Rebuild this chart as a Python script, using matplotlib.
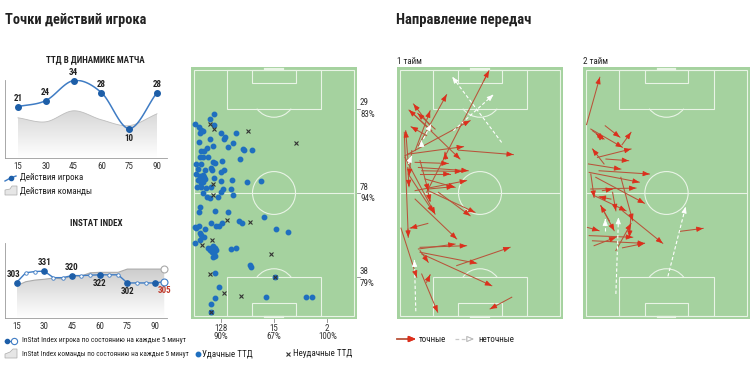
import numpy as np
import matplotlib
matplotlib.use("Agg")
import matplotlib.pyplot as plt
from matplotlib import font_manager
from matplotlib.colors import LinearSegmentedColormap
from matplotlib.lines import Line2D
from matplotlib.patches import Arc, Circle, Polygon, Rectangle


def pick_font():
    # узкий шрифт, если он есть; иначе обычный
    fonts = font_manager.fontManager.ttflist
    names = {f.name for f in fonts}
    for cand in ["Liberation Sans Narrow", "Roboto Condensed", "Open Sans Condensed",
                 "Noto Sans Condensed", "DejaVu Sans Condensed"]:
        if cand in names:
            return cand, "normal"
    for f in fonts:
        if f.name == "DejaVu Sans" and "condensed" in str(f.stretch):
            return "DejaVu Sans", "condensed"
    return "Liberation Sans", "normal"


FONT, STRETCH = pick_font()
plt.rcParams["font.family"] = [FONT, "DejaVu Sans"]
plt.rcParams["font.stretch"] = STRETCH

# ТТД в динамике матча (по 15 минут)
ttd_minutes = [15, 30, 45, 60, 75, 90]
ttd_player = [21, 24, 34, 28, 10, 28]
ttd_team = [15.4, 13.4, 18.9, 14.4, 11.5, 17.4]

# InStat Index каждые 5 минут
idx_minutes = [15, 20, 25, 30, 35, 40, 45, 50, 55, 60, 65, 70, 75, 80, 85, 90, 95]
idx_player = [303, 327, 330, 331, 315, 315, 320, 320, 321, 322, 322, 322, 302, 302, 302, 302, 305]
idx_team = [295, 305, 309, 311, 314, 312, 319, 319, 327, 328, 328, 328, 336, 336, 336, 336, 336]
idx_label_minutes = [15, 30, 45, 60, 75, 95]

# ТТД на поле, метры: x поперёк поля (0..68), y вдоль (0..105)
good_actions = np.array([
    (8.4, 18.8), (6.7, 21.1), (0.2, 23.2), (2.0, 24.5), (3.1, 25.6), (2.4, 27.0), (3.7, 26.0),
    (8.5, 23.5), (11.6, 27.0), (13.3, 28.5), (12.8, 29.6), (18.0, 26.7), (6.7, 29.6), (2.3, 30.9),
    (8.1, 32.3), (14.5, 32.7), (16.6, 31.0), (20.8, 33.9), (21.3, 34.1), (24.8, 34.1), (19.4, 38.1),
    (3.1, 34.4), (4.3, 34.4), (5.7, 33.4), (2.4, 37.3), (3.8, 37.3), (6.0, 37.0), (8.1, 39.1),
    (8.8, 39.8), (12.0, 38.7), (1.0, 40.1), (2.8, 40.1), (7.1, 42.0), (7.7, 42.7), (1.7, 42.4),
    (4.8, 42.7), (11.3, 43.4), (12.8, 42.7), (1.0, 44.4), (2.4, 45.2), (3.4, 45.5), (4.3, 45.8),
    (3.1, 47.0), (4.5, 46.7), (1.7, 47.0), (2.8, 48.1), (8.5, 46.0), (11.6, 47.2), (16.3, 47.0),
    (22.7, 47.8), (28.6, 47.4), (1.4, 50.1), (3.1, 50.1), (5.2, 50.5), (7.4, 50.1), (11.6, 51.9),
    (12.3, 50.9), (15.6, 50.9), (3.8, 52.6), (5.7, 54.1), (6.7, 54.6), (10.2, 54.4), (16.6, 53.4),
    (2.6, 58.6), (3.8, 47.7), (3.0, 46.2), (3.6, 46.5), (4.0, 45.0), (2.6, 46.0),
    (2.0, 60.5), (9.1, 60.2), (14.5, 60.8), (0.3, 66.9), (1.0, 67.3), (2.0, 66.4), (4.5, 67.9),
    (7.4, 65.2), (9.5, 66.4), (10.5, 66.6), (12.0, 65.4), (19.0, 64.5), (20.4, 65.4), (29.8, 62.6),
    (35.0, 67.9), (40.0, 69.0), (2.4, 69.7), (2.8, 70.4), (4.3, 71.4), (2.4, 72.6), (0.2, 74.0),
    (6.0, 75.8), (6.7, 76.8), (7.4, 76.1), (8.1, 75.0), (8.8, 75.8), (7.7, 77.5), (8.5, 78.3),
    (9.5, 76.8), (8.1, 79.7), (9.1, 79.3), (15.6, 76.4), (17.7, 76.1), (23.7, 83.2), (24.4, 84.2),
    (8.8, 86.5), (10.6, 92.6), (9.1, 97.2), (7.4, 100.0), (30.7, 97.0), (47.8, 96.9), (50.3, 96.9),
    (34.6, 88.5), (7.1, 103.3),
])
bad_actions = np.array([
    (6.7, 23.0), (8.5, 25.3), (23.0, 26.0), (43.5, 31.0), (8.1, 48.7), (8.1, 53.4), (14.2, 64.0),
    (23.7, 64.7), (7.7, 72.6), (3.4, 74.7), (32.9, 78.5), (6.7, 87.1), (12.6, 95.3), (19.8, 96.5),
    (34.6, 88.5), (7.1, 103.3),
])
row_counts = [29, 78, 38]
row_pct = [83, 94, 79]
col_counts = [128, 15, 2]
col_pct = [90, 67, 100]

# передачи: x0, y0, x1, y1 (метры)
passes_1 = [
    (11.3, 52.2, 37.8, 0.3), (7.8, 32.3, 19.8, 10.5), (4.3, 17.4, 25.5, 38.0), (12.8, 23.8, 5.7, 14.5),
    (13.5, 25.9, 3.8, 17.1), (14.9, 25.2, 7.5, 18.5), (6.4, 34.4, 12.8, 17.4), (3.5, 40.1, 2.4, 25.9),
    (1.8, 26.6, 3.5, 71.4), (3.3, 41.6, 3.8, 49.8), (3.5, 35.9, 27.0, 32.7), (24.8, 34.2, 48.2, 36.1),
    (19.4, 38.0, 19.1, 35.1), (6.4, 39.4, 20.5, 39.9), (7.8, 41.6, 29.0, 43.0), (9.2, 43.0, 26.2, 43.3),
    (8.5, 44.4, 21.3, 44.4), (10.6, 46.5, 23.4, 50.1), (6.4, 51.5, 28.3, 47.2), (12.0, 50.8, 22.7, 49.8),
    (12.0, 51.5, 31.9, 60.8), (16.3, 52.2, 29.8, 62.2), (11.3, 49.4, 12.8, 56.1), (6.4, 55.1, 24.1, 72.1),
    (3.5, 44.4, 14.2, 60.8), (2.1, 37.3, 14.9, 61.5), (11.8, 65.5, 4.3, 67.5), (0.4, 67.5, 7.1, 88.5),
    (8.5, 75.7, 28.3, 75.0), (7.8, 76.4, 23.4, 74.3), (8.5, 77.1, 12.0, 82.1), (8.5, 77.8, 32.6, 82.5),
    (9.2, 78.5, 39.0, 92.1), (24.1, 83.5, 46.8, 75.7), (9.2, 87.1, 16.0, 103.4), (11.3, 90.6, 12.8, 87.4),
    (47.5, 97.0, 38.3, 102.0), (2.1, 36.6, 29.8, 21.6), (8.5, 38.7, 12.0, 51.5), (5.0, 34.4, 3.8, 45.1),
    (11.3, 28.0, 4.7, 24.2),
]
passes_1_bad = [
    (43.2, 30.9, 22.2, 2.9), (22.7, 25.9, 39.7, 10.5), (9.9, 29.5, 13.2, 23.1),
    (6.7, 103.0, 6.1, 81.1), (3.5, 40.1, 5.0, 36.6), (9.2, 32.3, 9.0, 29.9),
]
passes_2 = [
    (0.2, 23.3, 5.8, 3.1), (8.1, 23.8, 14.3, 28.7), (2.0, 25.2, 15.4, 33.0), (15.2, 31.9, 19.0, 26.6),
    (2.7, 25.9, 7.6, 29.5), (6.9, 29.5, 4.4, 27.3), (4.8, 37.3, 19.0, 33.7), (7.6, 40.1, 2.7, 33.7),
    (1.0, 40.1, 14.7, 42.3), (8.4, 38.0, 18.0, 38.7), (5.5, 43.0, 26.8, 44.4), (1.3, 43.7, 22.5, 47.9),
    (4.1, 45.8, 24.7, 56.9), (2.0, 50.8, 21.1, 50.4), (6.9, 51.5, 11.2, 50.8), (3.4, 53.6, 16.9, 60.1),
    (11.2, 52.2, 12.6, 60.1), (14.7, 45.8, 19.7, 64.3), (15.4, 60.1, 32.4, 74.0), (6.2, 57.9, 11.9, 68.6),
    (0.6, 67.2, 5.5, 68.6), (1.3, 70.7, 19.7, 71.4), (2.7, 72.9, 24.7, 74.0), (3.4, 75.0, 12.6, 71.4),
    (12.6, 77.1, 19.0, 65.5), (19.0, 61.5, 18.3, 71.4), (39.5, 68.9, 49.5, 67.6), (9.8, 64.3, 6.2, 57.9),
    (15.4, 75.9, 24.7, 74.0), (2.0, 44.4, 3.4, 54.4), (10.5, 55.1, 5.5, 54.1),
]
passes_2_bad = [
    (12.6, 95.6, 13.7, 62.9), (34.6, 88.1, 42.1, 58.3), (8.1, 68.6, 8.1, 63.6),
]

W, H = 750, 368
GREEN = "#a5d29f"
LINE = "#e9f4e6"
BLUE = "#1f6fbf"
RED_LINE = "#b9533a"
RED_HEAD = "#dc2f1c"

fig = plt.figure(figsize=(7.5, 3.68), dpi=100)
fig.patch.set_facecolor("white")
renderer = fig.canvas.get_renderer()


def add_ax(x0, y0, x1, y1):
    return fig.add_axes([x0 / W, 1 - y1 / H, (x1 - x0) / W, (y1 - y0) / H])


def fig_text(x, y, s, width=None, **kw):
    kw.setdefault("va", "center")
    kw.setdefault("color", "#222222")
    t = fig.text(x / W, 1 - y / H, s, **kw)
    if width:
        # подгоняем кегль под ширину надписи в оригинале
        w = t.get_window_extent(renderer).width
        t.set_fontsize(t.get_fontsize() * width / w)
    return t


def fig_line(xs, ys, **kw):
    fig.add_artist(Line2D([x / W for x in xs], [1 - y / H for y in ys],
                          transform=fig.transFigure, **kw))


def smooth(x, y, n=24):
    # Catmull-Rom, только для отрисовки плавной кривой
    x = np.asarray(x, float)
    y = np.asarray(y, float)
    px = np.concatenate([[2 * x[0] - x[1]], x, [2 * x[-1] - x[-2]]])
    py = np.concatenate([[2 * y[0] - y[1]], y, [2 * y[-1] - y[-2]]])
    t = np.linspace(0, 1, n, endpoint=False)
    ox, oy = [], []
    for i in range(1, len(px) - 2):
        for arr, out in ((px, ox), (py, oy)):
            p0, p1, p2, p3 = arr[i - 1:i + 3]
            out.append(0.5 * (2 * p1 + (-p0 + p2) * t + (2 * p0 - 5 * p1 + 4 * p2 - p3) * t ** 2
                              + (-p0 + 3 * p1 - 3 * p2 + p3) * t ** 3))
    ox.append([x[-1]])
    oy.append([y[-1]])
    return np.concatenate(ox), np.concatenate(oy)


def gradient_area(ax, x, y, y0, color):
    verts = np.vstack([np.column_stack([x, y]), [[x[-1], y0], [x[0], y0]]])
    clip = Polygon(verts, closed=True, facecolor="none", edgecolor="none")
    ax.add_patch(clip)
    cmap = LinearSegmentedColormap.from_list("g", ["#ffffff", color])
    grad = np.linspace(1, 0, 256).reshape(-1, 1)
    img = ax.imshow(grad, extent=[x.min(), x.max(), y0, y.max()], aspect="auto",
                    cmap=cmap, origin="upper", zorder=1)
    img.set_clip_path(clip)


def style_chart(ax):
    ax.set_facecolor("none")
    for s in ("top", "right"):
        ax.spines[s].set_visible(False)
    for s in ("left", "bottom"):
        ax.spines[s].set_color("#9a9a9a")
        ax.spines[s].set_linewidth(0.6)
    ax.set_yticks([])
    ax.tick_params(axis="x", length=0, pad=3, labelsize=6.5, colors="#333333")


def draw_pitch(ax):
    ax.set_facecolor(GREEN)
    for s in ax.spines.values():
        s.set_visible(False)
    ax.set_xticks([])
    ax.set_yticks([])
    kw = dict(fill=False, ec=LINE, lw=0.8)
    ax.add_patch(Rectangle((0, 0), 68, 105, **kw))
    ax.plot([0, 68], [52.5, 52.5], color=LINE, lw=0.8)
    ax.add_patch(Circle((34, 52.5), 9.15, **kw))
    ax.add_patch(Rectangle((13.84, 0), 40.32, 16.5, **kw))
    ax.add_patch(Rectangle((13.84, 88.5), 40.32, 16.5, **kw))
    ax.add_patch(Rectangle((24.84, 0), 18.32, 5.5, **kw))
    ax.add_patch(Rectangle((24.84, 99.5), 18.32, 5.5, **kw))
    ax.add_patch(Arc((34, 11), 18.3, 18.3, theta1=37, theta2=143, ec=LINE, lw=0.8))
    ax.add_patch(Arc((34, 94), 18.3, 18.3, theta1=217, theta2=323, ec=LINE, lw=0.8))
    ax.plot([30.3, 37.7], [-0.4, -0.4], color=LINE, lw=1.6)
    ax.plot([30.3, 37.7], [105.4, 105.4], color=LINE, lw=1.6)
    ax.set_xlim(-1.3, 69.3)
    ax.set_ylim(106.3, -1.3)


def draw_passes(ax, passes, dashed=False):
    for x0, y0, x1, y1 in passes:
        if dashed:
            ax.plot([x0, x1], [y0, y1], color="white", lw=0.8, ls=(0, (3, 2)), zorder=3)
            head_col = "white"
        else:
            ax.plot([x0, x1], [y0, y1], color=RED_LINE, lw=0.75, zorder=3)
            head_col = RED_HEAD
        ax.annotate("", xy=(x1, y1), xytext=(x1 - 0.08 * (x1 - x0), y1 - 0.08 * (y1 - y0)),
                    arrowprops=dict(arrowstyle="-|>,head_length=0.55,head_width=0.22",
                                    color=head_col, lw=0.6, shrinkA=0, shrinkB=0,
                                    mutation_scale=7), zorder=4)


# заголовки
fig_text(5, 20, "Точки действий игрока", width=140, fontsize=11, fontweight="bold")
fig_text(396, 20, "Направление передач", width=136, fontsize=11, fontweight="bold")
fig_text(95, 60, "ТТД В ДИНАМИКЕ МАТЧА", fontsize=6.5, fontweight="bold", ha="center")
fig_text(96, 223, "INSTAT INDEX", fontsize=6.5, fontweight="bold", ha="center")

# --- ТТД в динамике
ax1 = add_ax(5, 80, 167, 158)
tx, ty = smooth(ttd_minutes, ttd_team)
gradient_area(ax1, tx, ty, -4.7, "#d6d6d6")
ax1.plot(tx, ty, color="#bdbdbd", lw=0.6, zorder=2)
px, py = smooth(ttd_minutes, ttd_player)
ax1.plot(px, py, color="#3f7cc4", lw=1.1, zorder=3)
ax1.plot(ttd_minutes, ttd_player, "o", ms=4, color="#1d5ea8", zorder=4, clip_on=False)
low = min(ttd_player)
for m, v in zip(ttd_minutes, ttd_player):
    dy = -7 if v == low else 5.5
    ax1.annotate(str(v), (m, v), xytext=(0, dy), textcoords="offset points",
                 ha="center", va="center", fontsize=6.5, fontweight="bold", color="#222222")
ax1.set_xlim(8.0, 95.4)
ax1.set_ylim(-4.7, 34.3)
ax1.set_xticks(ttd_minutes)
style_chart(ax1)

fig_line([5, 10.5, 16], [181, 178, 176], color="#3f7cc4", lw=1)
fig_line([10.5], [178], marker="o", ms=3, color="#1d5ea8", ls="none")
fig_text(20, 178, "Действия игрока", fontsize=6.5)
fig.add_artist(Polygon([(5 / W, 1 - 195 / H), (5 / W, 1 - 190 / H), (10 / W, 1 - 189 / H),
                        (12 / W, 1 - 186 / H), (17 / W, 1 - 186 / H), (17 / W, 1 - 195 / H)],
                       closed=True, transform=fig.transFigure, fc="#e6e6e6", ec="#aaaaaa", lw=0.5))
fig_text(20, 191, "Действия команды", fontsize=6.5)

# --- InStat Index
ax2 = add_ax(5, 243, 167, 318)
im = np.asarray(idx_minutes, float)
gradient_area(ax2, im, np.asarray(idx_team, float), 216, "#cdcdcd")
ax2.plot(idx_minutes, idx_team, color="#ababab", lw=0.8, zorder=2)
ax2.plot(idx_minutes[-1], idx_team[-1], "o", ms=5, mfc="white", mec="#a9a9a9", mew=0.8,
         zorder=4, clip_on=False)
ax2.plot(idx_minutes, idx_player, color="#3f7cc4", lw=1.0, zorder=3)
big = [m % 15 == 0 for m in idx_minutes]
ax2.plot([m for m, b in zip(idx_minutes, big) if b], [v for v, b in zip(idx_player, big) if b],
         "o", ms=3.8, color="#1d5ea8", zorder=4)
ax2.plot([m for m, b in zip(idx_minutes[:-1], big) if not b],
         [v for v, b in zip(idx_player[:-1], big) if not b],
         "o", ms=2.5, mfc="white", mec="#3f7cc4", mew=0.6, zorder=4)
ax2.plot(idx_minutes[-1], idx_player[-1], "o", ms=5, mfc="white", mec="#3f7cc4", mew=0.8,
         zorder=5, clip_on=False)
offsets = {15: (-2, 6), 30: (0, 6), 45: (0, 6), 60: (0, -6), 75: (0, -6), 95: (0, -6)}
for m in idx_label_minutes:
    v = idx_player[idx_minutes.index(m)]
    ax2.annotate(str(v), (m, v), xytext=offsets[m], textcoords="offset points",
                 ha="center", va="center", fontsize=6.5, fontweight="bold",
                 color="#c0392b" if m == idx_minutes[-1] else "#222222")
ax2.set_xlim(8.75, 96.5)
ax2.set_ylim(216, 400)
ax2.set_xticks(ttd_minutes)
style_chart(ax2)

fig_line([5, 14], [341, 341], color="#3f7cc4", lw=1)
fig_line([6.5], [341], marker="o", ms=3, color="#1d5ea8", ls="none")
fig_line([14], [341], marker="o", ms=4.5, mfc="white", mec="#3f7cc4", mew=0.8, ls="none")
fig_text(22, 341, "InStat Index игрока по состоянию на каждые 5 минут", width=166, fontsize=7)
fig.add_artist(Polygon([(5 / W, 1 - 358 / H), (5 / W, 1 - 354 / H), (10 / W, 1 - 352 / H),
                        (13 / W, 1 - 349 / H), (17 / W, 1 - 349 / H), (17 / W, 1 - 358 / H)],
                       closed=True, transform=fig.transFigure, fc="#e6e6e6", ec="#aaaaaa", lw=0.5))
fig_text(22, 354, "InStat Index команды по состоянию на каждые 5 минут", width=169, fontsize=7)

# --- поле с ТТД
ax3 = add_ax(191, 67, 357, 319)
draw_pitch(ax3)
ax3.plot(good_actions[:, 0], good_actions[:, 1], "o", ms=3.2, color=BLUE, zorder=3, clip_on=False)
ax3.plot(bad_actions[:, 0], bad_actions[:, 1], "x", ms=3.5, mew=0.8, color="#333333", zorder=4)
for yl, c, p in zip([16.5, 52.5, 88.5], row_counts, row_pct):
    ax3.plot([69.3, 70.6], [yl, yl], color="#888888", lw=0.6, clip_on=False)
    ax3.text(70.6, yl - 0.6, str(c), fontsize=6.5, ha="left", va="bottom", color="#333333")
    ax3.text(70.6, yl + 0.6, f"{p}%", fontsize=6.5, ha="left", va="top", color="#333333")
for xl, c, p in zip([11.33, 34, 56.67], col_counts, col_pct):
    ax3.plot([xl, xl], [106.3, 107.6], color="#888888", lw=0.6, clip_on=False)
    ax3.text(xl, 110.2, str(c), fontsize=6.5, ha="center", va="center", color="#333333")
    ax3.text(xl, 113.8, f"{p}%", fontsize=6.5, ha="center", va="center", color="#333333")

fig_line([198], [354], marker="o", ms=3.2, color=BLUE, ls="none")
fig_text(202, 354, "Удачные ТТД", fontsize=6.5)
fig_line([288], [354], marker="x", ms=3.5, mew=0.8, color="#333333", ls="none")
fig_text(293, 354, "Неудачные ТТД", fontsize=6.5)

# --- передачи
fig_text(397, 62, "1 тайм", fontsize=6.5)
fig_text(583, 62, "2 тайм", fontsize=6.5)
ax4 = add_ax(397, 67, 563, 319)
draw_pitch(ax4)
draw_passes(ax4, passes_1)
draw_passes(ax4, passes_1_bad, dashed=True)
ax5 = add_ax(583, 67, 750, 319)
draw_pitch(ax5)
draw_passes(ax5, passes_2)
draw_passes(ax5, passes_2_bad, dashed=True)

fig_line([397, 410], [339, 339], color=RED_LINE, lw=1.3)
fig.add_artist(plt.annotate("", xy=(416 / W, 1 - 339 / H), xytext=(408 / W, 1 - 339 / H),
                            xycoords="figure fraction", textcoords="figure fraction",
                            arrowprops=dict(arrowstyle="-|>,head_length=0.6,head_width=0.25",
                                            color=RED_HEAD, lw=1, shrinkA=0, shrinkB=0,
                                            mutation_scale=7)))
fig_text(419, 339, "точные", fontsize=6.5)
fig_line([455, 468], [339, 339], color="#c8c8c8", lw=0.9, ls=(0, (3, 2)))
fig.add_artist(plt.annotate("", xy=(474 / W, 1 - 339 / H), xytext=(467 / W, 1 - 339 / H),
                            xycoords="figure fraction", textcoords="figure fraction",
                            arrowprops=dict(arrowstyle="-|>,head_length=0.6,head_width=0.25",
                                            fc="white", ec="#bbbbbb", lw=0.7,
                                            shrinkA=0, shrinkB=0, mutation_scale=7)))
fig_text(478, 339, "неточные", fontsize=6.5)

fig.savefig("out.png", dpi=100)
